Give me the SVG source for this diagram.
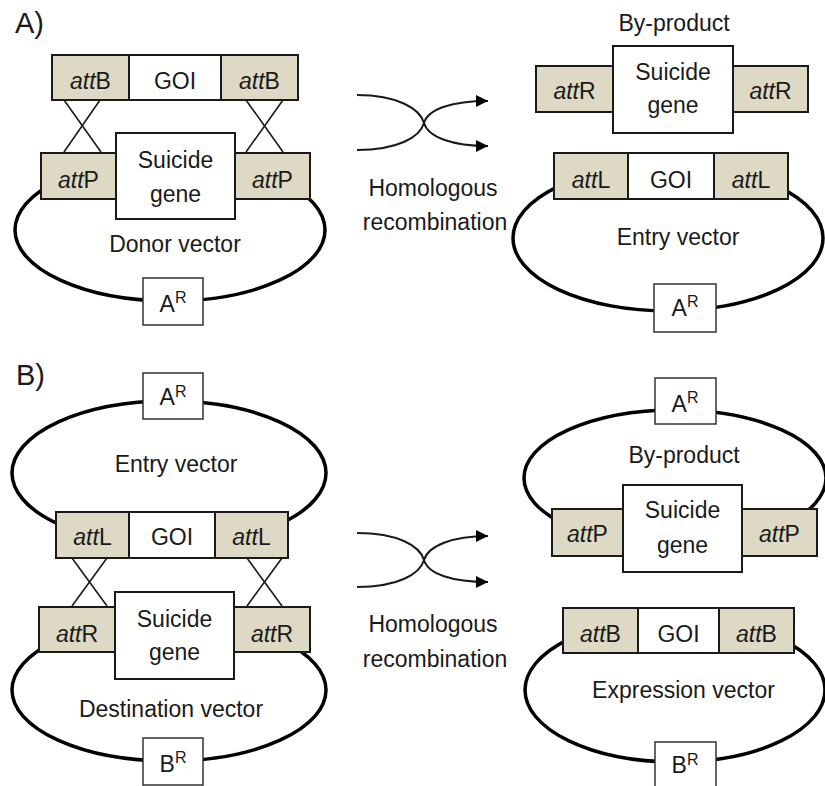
<svg xmlns="http://www.w3.org/2000/svg" width="825" height="786" viewBox="0 0 825 786">
<style>
  text { font-family: "Liberation Sans", Arial, sans-serif; font-size: 23px; fill: #1a1a1a; }
  .t { text-anchor: middle; }
  .panel { font-size: 29px; }
  .att { fill: #ddd9c4; stroke: #1a1a1a; stroke-width: 2; }
  .box { fill: #ffffff; stroke: #1a1a1a; stroke-width: 2; }
  .mk { fill: #ffffff; stroke: #333333; stroke-width: 1.5; }
  .loop { fill: none; stroke: #000000; stroke-width: 3.5; }
  .cross { stroke: #1a1a1a; stroke-width: 1.6; fill: none; }
  .arrow { stroke: #1a1a1a; stroke-width: 2; fill: none; marker-end: url(#ah); }
  .sup { font-size: 16px; }
  .it { font-style: italic; }
</style>
<defs>
  <marker id="ah" markerUnits="userSpaceOnUse" markerWidth="13" markerHeight="13" refX="12" refY="6" orient="auto">
    <path d="M0,0 L12,6 L0,12 z" fill="#000000"/>
  </marker>
</defs>
<rect x="0" y="0" width="825" height="786" fill="#ffffff"/>

<text class="panel" x="15" y="33">A)</text>
<text class="panel" x="16" y="385">B)</text>

<!-- plasmid backbones -->
<g id="backbones">
  <ellipse class="loop" cx="170" cy="230" rx="155" ry="71"/>
  <ellipse class="loop" cx="668" cy="238" rx="155" ry="73"/>
  <ellipse class="loop" cx="169" cy="473" rx="157" ry="72"/>
  <ellipse class="loop" cx="169" cy="690" rx="157" ry="71"/>
  <ellipse class="loop" cx="675" cy="478" rx="151" ry="68"/>
  <ellipse class="loop" cx="675" cy="690" rx="150" ry="72"/>
</g>

<g id="connectors">
  <line class="cross" x1="64" y1="100" x2="101" y2="152"/>
  <line class="cross" x1="100" y1="100" x2="64" y2="152"/>
  <line class="cross" x1="246" y1="100" x2="283" y2="152"/>
  <line class="cross" x1="283" y1="100" x2="246" y2="152"/>
  <line class="cross" x1="72" y1="558" x2="107" y2="606"/>
  <line class="cross" x1="107" y1="558" x2="72" y2="606"/>
  <line class="cross" x1="247" y1="558" x2="282" y2="606"/>
  <line class="cross" x1="282" y1="558" x2="247" y2="606"/>
  <path class="arrow" d="M357,95 C398,95 420,109 424,123 C428,137 452,146 488,146"/>
  <path class="arrow" d="M357,150 C398,150 420,137 424,123 C428,109 452,101 488,101"/>
  <path class="arrow" d="M357,533 C398,533 420,546 424,560 C428,574 452,582 488,582"/>
  <path class="arrow" d="M357,587 C398,587 420,574 424,560 C428,546 452,536 488,536"/>
</g>

<g id="recombA">
  <text class="t" x="433" y="196">Homologous</text>
  <text class="t" x="435" y="230">recombination</text>
</g>
<g id="recombB">
  <text class="t" x="433" y="632">Homologous</text>
  <text class="t" x="435" y="667">recombination</text>
</g>

<!-- Panel A left -->
<g id="attB-GOI-fragment">
  <rect class="att" x="52" y="55" width="77" height="45"/>
  <rect class="box" x="129" y="55" width="92" height="45"/>
  <rect class="att" x="221" y="55" width="77" height="45"/>
  <text class="t" x="90.5" y="89"><tspan class="it">att</tspan>B</text>
  <text class="t" x="175" y="89">GOI</text>
  <text class="t" x="259.5" y="89"><tspan class="it">att</tspan>B</text>
</g>
<g id="donor-vector">
  <rect class="att" x="41" y="153" width="75" height="46"/>
  <rect class="att" x="235" y="153" width="75" height="46"/>
  <rect class="box" x="116" y="133" width="119" height="86"/>
  <text class="t" x="78.5" y="188"><tspan class="it">att</tspan>P</text>
  <text class="t" x="272.5" y="188"><tspan class="it">att</tspan>P</text>
  <text class="t" x="175.5" y="168">Suicide</text>
  <text class="t" x="175.5" y="201.5">gene</text>
  <text class="t" x="175" y="252">Donor vector</text>
  <rect class="mk" x="143" y="278" width="60" height="47"/>
  <text class="t" x="173" y="311.5">A<tspan class="sup" dy="-8.5">R</tspan></text>
</g>

<!-- Panel A right -->
<g id="byproduct-A">
  <text class="t" x="674" y="31">By-product</text>
  <rect class="att" x="536" y="66" width="77" height="46"/>
  <rect class="att" x="733" y="66" width="75" height="46"/>
  <rect class="box" x="613" y="46" width="120" height="87"/>
  <text class="t" x="574.5" y="99"><tspan class="it">att</tspan>R</text>
  <text class="t" x="770.5" y="99"><tspan class="it">att</tspan>R</text>
  <text class="t" x="673" y="80">Suicide</text>
  <text class="t" x="673" y="113">gene</text>
</g>
<g id="entry-vector-A">
  <rect class="att" x="554" y="153" width="74" height="46"/>
  <rect class="box" x="628" y="153" width="86" height="46"/>
  <rect class="att" x="714" y="153" width="74" height="46"/>
  <text class="t" x="591" y="188"><tspan class="it">att</tspan>L</text>
  <text class="t" x="671" y="188">GOI</text>
  <text class="t" x="751" y="188"><tspan class="it">att</tspan>L</text>
  <text class="t" x="678" y="245">Entry vector</text>
  <rect class="mk" x="654" y="284" width="62" height="48"/>
  <text class="t" x="685" y="315.5">A<tspan class="sup" dy="-8.5">R</tspan></text>
</g>

<!-- Panel B left -->
<g id="entry-vector-B">
  <rect class="mk" x="143" y="373" width="60" height="46"/>
  <text class="t" x="173" y="405">A<tspan class="sup" dy="-8.5">R</tspan></text>
  <text class="t" x="176" y="472">Entry vector</text>
  <rect class="att" x="56" y="512" width="73" height="46"/>
  <rect class="box" x="129" y="512" width="86" height="46"/>
  <rect class="att" x="215" y="512" width="73" height="46"/>
  <text class="t" x="92.5" y="545"><tspan class="it">att</tspan>L</text>
  <text class="t" x="172" y="545">GOI</text>
  <text class="t" x="251.5" y="545"><tspan class="it">att</tspan>L</text>
</g>
<g id="destination-vector">
  <rect class="att" x="39" y="607" width="76" height="45"/>
  <rect class="att" x="234" y="607" width="76" height="45"/>
  <rect class="box" x="115" y="592" width="119" height="87"/>
  <text class="t" x="77" y="641.5"><tspan class="it">att</tspan>R</text>
  <text class="t" x="272" y="641.5"><tspan class="it">att</tspan>R</text>
  <text class="t" x="174.5" y="626.5">Suicide</text>
  <text class="t" x="174.5" y="660">gene</text>
  <text class="t" x="171" y="717">Destination vector</text>
  <rect class="mk" x="143" y="738" width="60" height="47"/>
  <text class="t" x="173" y="771.5">B<tspan class="sup" dy="-8.5">R</tspan></text>
</g>

<!-- Panel B right -->
<g id="byproduct-B">
  <rect class="mk" x="655" y="378" width="61" height="46"/>
  <text class="t" x="685" y="411.5">A<tspan class="sup" dy="-8.5">R</tspan></text>
  <text class="t" x="684" y="463">By-product</text>
  <rect class="att" x="552" y="509" width="71" height="47"/>
  <rect class="att" x="742" y="509" width="75" height="47"/>
  <rect class="box" x="623" y="485" width="119" height="87"/>
  <text class="t" x="587.5" y="541.5"><tspan class="it">att</tspan>P</text>
  <text class="t" x="779.5" y="541.5"><tspan class="it">att</tspan>P</text>
  <text class="t" x="682.5" y="518">Suicide</text>
  <text class="t" x="682.5" y="553">gene</text>
</g>
<g id="expression-vector">
  <rect class="att" x="563" y="608" width="75" height="45"/>
  <rect class="box" x="638" y="608" width="81" height="45"/>
  <rect class="att" x="719" y="608" width="75" height="45"/>
  <text class="t" x="600.5" y="641.5"><tspan class="it">att</tspan>B</text>
  <text class="t" x="678.5" y="641.5">GOI</text>
  <text class="t" x="756.5" y="641.5"><tspan class="it">att</tspan>B</text>
  <text class="t" x="683.5" y="698">Expression vector</text>
  <rect class="mk" x="655" y="742" width="61" height="48"/>
  <text class="t" x="685" y="773">B<tspan class="sup" dy="-8.5">R</tspan></text>
</g>
</svg>
